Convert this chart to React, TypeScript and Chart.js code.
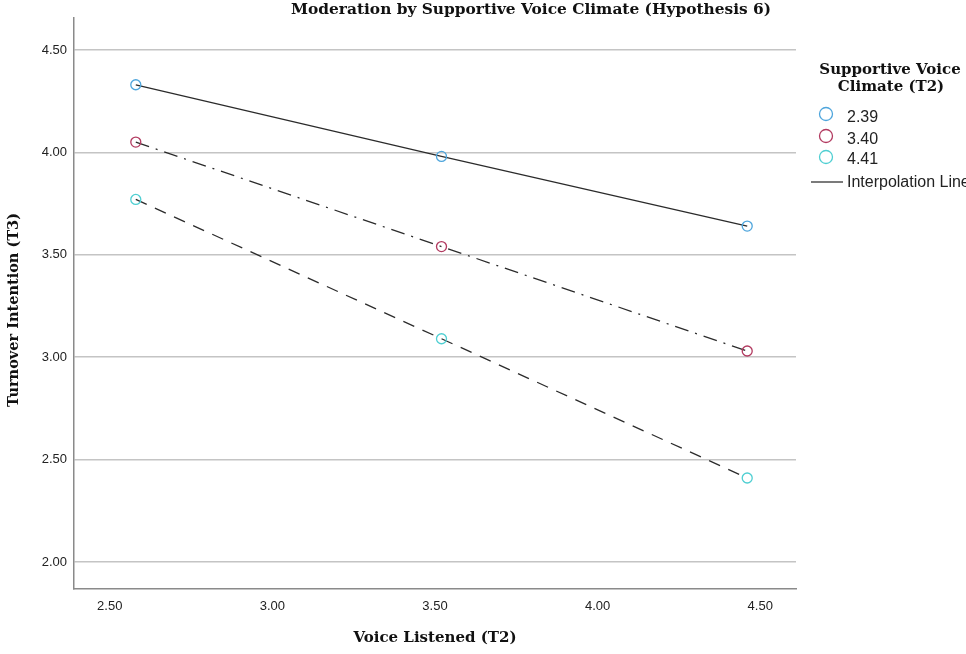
import React, { useEffect, useRef } from "react";
import { Chart, registerables } from "chart.js";

Chart.register(...registerables);

const xValues = [2.58, 3.52, 4.46];
const seriesLabels = ["2.39", "3.40", "4.41"];
const lowClimate = [4.33, 3.98, 3.64];
const midClimate = [4.05, 3.54, 3.03];
const highClimate = [3.77, 3.09, 2.41];
const xTicks = [2.5, 3.0, 3.5, 4.0, 4.5];
const yTicks = [2.0, 2.5, 3.0, 3.5, 4.0, 4.5];

const pointColors = ["#4ea5dc", "#b23a60", "#4fcfd2"];
const dashes: number[][] = [[], [14, 7, 2, 7], [12, 9]];

const overlayPlugin = {
  id: "overlay",
  afterDraw(chart: any) {
    const ctx = chart.ctx as CanvasRenderingContext2D;
    const area = chart.chartArea;
    ctx.save();
    // title
    ctx.fillStyle = "#111";
    ctx.font = "bold 15.4px 'DejaVu Serif'";
    ctx.textAlign = "center";
    ctx.textBaseline = "middle";
    ctx.fillText("Moderation by Supportive Voice Climate (Hypothesis 6)", 531, 10);
    // x axis title
    ctx.font = "bold 15px 'DejaVu Serif'";
    ctx.fillText("Voice Listened (T2)", (area.left + area.right) / 2, 638);
    // y axis title
    ctx.save();
    ctx.translate(14, 310);
    ctx.rotate(-Math.PI / 2);
    ctx.font = "bold 14.5px 'DejaVu Serif'";
    ctx.fillText("Turnover Intention (T3)", 0, 0);
    ctx.restore();
    // legend
    ctx.font = "bold 15px 'DejaVu Serif'";
    ctx.fillText("Supportive Voice", 890, 70);
    ctx.fillText("Climate (T2)", 891, 87);
    ctx.textAlign = "left";
    ctx.font = "16px 'Liberation Sans'";
    const cy = [114, 136, 157];
    const ty = [118, 140, 160];
    seriesLabels.forEach((lab, i) => {
      ctx.beginPath();
      ctx.arc(826, cy[i], 6.5, 0, Math.PI * 2);
      ctx.strokeStyle = pointColors[i];
      ctx.lineWidth = 1.3;
      ctx.stroke();
      ctx.fillStyle = "#222";
      ctx.fillText(lab, 847, ty[i]);
    });
    ctx.beginPath();
    ctx.moveTo(811, 182);
    ctx.lineTo(843, 182);
    ctx.strokeStyle = "#333";
    ctx.lineWidth = 1.3;
    ctx.stroke();
    ctx.fillText("Interpolation Line", 847, 183);
    ctx.restore();
  },
};

function makeDataset(label: string, values: number[], i: number) {
  return {
    label,
    data: xValues.map((x, k) => ({ x, y: values[k] })),
    borderColor: "#2b2b2b",
    borderWidth: 1.3,
    borderDash: dashes[i],
    pointRadius: 5,
    pointHoverRadius: 5,
    pointBorderWidth: 1.3,
    pointBorderColor: pointColors[i],
    pointBackgroundColor: "rgba(255,255,255,0)",
    showLine: true,
    fill: false,
    tension: 0,
  };
}

export default function App() {
  const ref = useRef<HTMLCanvasElement>(null);
  useEffect(() => {
    if (!ref.current) return;
    const chart = new Chart(ref.current, {
      type: "scatter",
      data: {
        datasets: [
          makeDataset(seriesLabels[0], lowClimate, 0),
          makeDataset(seriesLabels[1], midClimate, 1),
          makeDataset(seriesLabels[2], highClimate, 2),
        ],
      },
      options: {
        animation: false,
        responsive: false,
        devicePixelRatio: 1,
        layout: { padding: { top: 18, right: 170, left: 0, bottom: 0 } },
        plugins: { legend: { display: false }, tooltip: { enabled: false }, title: { display: false } },
        scales: {
          x: {
            type: "linear",
            min: 2.39,
            max: 4.61,
            afterBuildTicks: (s: any) => {
              s.ticks = xTicks.map((v) => ({ value: v }));
            },
            afterFit: (s: any) => {
              s.height = 65;
            },
            grid: { display: false, drawTicks: false },
            border: { display: true, color: "#8a8a8a", width: 1.5 },
            ticks: {
              padding: 10,
              color: "#222",
              font: { family: "'Liberation Sans'", size: 13 },
              callback: (v: any) => Number(v).toFixed(2),
              maxRotation: 0,
            },
          },
          y: {
            type: "linear",
            min: 1.868,
            max: 4.656,
            afterBuildTicks: (s: any) => {
              s.ticks = yTicks.map((v) => ({ value: v }));
            },
            afterFit: (s: any) => {
              s.width = 74;
            },
            grid: { display: true, color: "#c4c4c4", lineWidth: 1.5, drawTicks: false },
            border: { display: true, color: "#8a8a8a", width: 1.5 },
            ticks: {
              padding: 7,
              color: "#222",
              font: { family: "'Liberation Sans'", size: 13 },
              callback: (v: any) => Number(v).toFixed(2),
            },
          },
        },
      },
      plugins: [overlayPlugin],
    });
    return () => chart.destroy();
  }, []);
  return (
    <div style={{ position: "absolute", left: 0, top: 0, width: 966, height: 654, background: "#fff", overflow: "hidden" }}>
      <canvas ref={ref} width={966} height={654} style={{ display: "block" }} />
    </div>
  );
}
